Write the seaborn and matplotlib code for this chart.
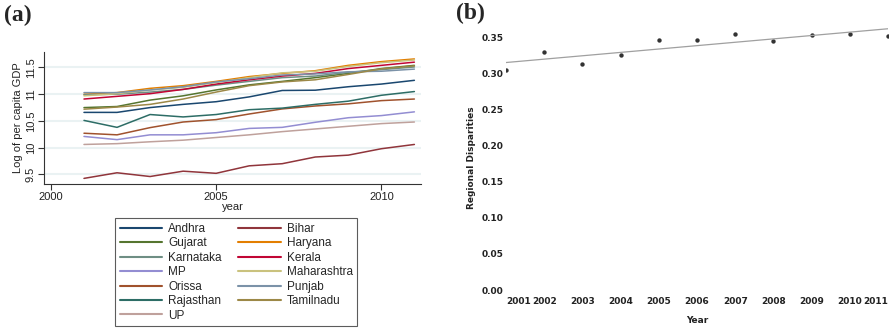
import numpy as np
import pandas as pd
import matplotlib
matplotlib.use("Agg")
import matplotlib.pyplot as plt
import seaborn as sns

# --- DATA ---
years = list(range(2001, 2012))

states = ['Andhra', 'Bihar', 'Gujarat', 'Haryana', 'Karnataka', 'Kerala', 'MP',
          'Maharashtra', 'Orissa', 'Punjab', 'Rajasthan', 'Tamilnadu', 'UP']

andhra = [10.66, 10.66, 10.75, 10.81, 10.86, 10.95, 11.07, 11.075, 11.14, 11.19, 11.26]
bihar = [9.425, 9.53, 9.46, 9.56, 9.52, 9.66, 9.70, 9.825, 9.86, 9.98, 10.06]
gujarat = [10.75, 10.77, 10.89, 10.97, 11.08, 11.175, 11.24, 11.31, 11.39, 11.48, 11.54]
haryana = [11.00, 11.03, 11.11, 11.16, 11.24, 11.33, 11.39, 11.44, 11.54, 11.61, 11.66]
karnataka = [10.99, 11.00, 11.04, 11.09, 11.17, 11.24, 11.31, 11.34, 11.41, 11.46, 11.51]
kerala = [10.91, 10.96, 11.01, 11.09, 11.19, 11.27, 11.34, 11.39, 11.48, 11.54, 11.60]
mp = [10.21, 10.15, 10.24, 10.24, 10.28, 10.36, 10.38, 10.475, 10.56, 10.60, 10.67]
maharashtra = [10.97, 11.01, 11.08, 11.13, 11.22, 11.31, 11.40, 11.43, 11.52, 11.59, 11.64]
orissa = [10.27, 10.24, 10.375, 10.48, 10.525, 10.63, 10.725, 10.78, 10.82, 10.88, 10.91]
punjab = [11.03, 11.03, 11.08, 11.14, 11.23, 11.29, 11.36, 11.38, 11.42, 11.43, 11.47]
rajasthan = [10.51, 10.38, 10.62, 10.575, 10.62, 10.71, 10.74, 10.81, 10.87, 10.98, 11.05]
tamilnadu = [10.72, 10.76, 10.81, 10.91, 11.04, 11.16, 11.23, 11.27, 11.37, 11.475, 11.53]
up = [10.06, 10.075, 10.11, 10.14, 10.19, 10.24, 10.30, 10.35, 10.40, 10.45, 10.48]

disparities = [0.305, 0.330, 0.3136, 0.3257, 0.3472, 0.3467, 0.3551, 0.3458, 0.3542, 0.3561, 0.3533]

state_colors = ['#1a476f', '#90353b', '#55752f', '#e37e00', '#6e8e84', '#c10534', '#938dd2',
                '#cac27e', '#a0522d', '#7b92a8', '#2d6d66', '#9c8847', '#bfa19c']

series = [andhra, bihar, gujarat, haryana, karnataka, kerala, mp,
          maharashtra, orissa, punjab, rajasthan, tamilnadu, up]

df = pd.DataFrame([(s, y, v) for s, vals in zip(states, series) for y, v in zip(years, vals)],
                  columns=['state', 'year', 'lgdp'])

# --- STYLE ---
sns.set_style("white")
plt.rcParams['font.family'] = ['Liberation Sans', 'DejaVu Sans']

fig = plt.figure(figsize=(8.94, 3.28), dpi=100)

# --- PANEL (a) ---
ax1 = fig.add_axes([44 / 894, 1 - 184 / 328, 377 / 894, 132 / 328])
sns.lineplot(data=df, x='year', y='lgdp', hue='state', hue_order=states,
             palette=dict(zip(states, state_colors)), linewidth=1.1, ax=ax1)

ax1.set_xlim(1999.79, 2011.2)
ax1.set_ylim(9.32, 11.79)
ax1.set_yticks([9.5, 10, 10.5, 11, 11.5])
ax1.set_yticklabels(['9.5', '10', '10.5', '11', '11.5'], rotation=90, va='center')
ax1.set_xticks([2000, 2005, 2010])
ax1.grid(axis='y', color='#eaf2f3', linewidth=1.5)
ax1.set_axisbelow(True)
for side in ['top', 'right']:
    ax1.spines[side].set_visible(False)
for side in ['left', 'bottom']:
    ax1.spines[side].set_color('#333333')
    ax1.spines[side].set_linewidth(0.8)
ax1.tick_params(axis='both', labelsize=8, length=4, width=0.8, color='#333333', pad=2,
                direction='out', left=True, bottom=True, labelcolor='#222222')
ax1.set_xlabel('year', fontsize=8, labelpad=0, color='#222222')
ax1.set_ylabel('Log of per capita GDP', fontsize=8, labelpad=2, color='#222222')

handles, labels = ax1.get_legend_handles_labels()
ax1.get_legend().remove()
order = list(range(0, 13, 2)) + list(range(1, 13, 2))
leg = fig.legend([handles[i] for i in order], [labels[i] for i in order],
                 ncol=2, loc='upper left', bbox_to_anchor=(115 / 894, 1 - 218 / 328),
                 borderaxespad=0, fontsize=8.5, frameon=True, fancybox=False,
                 edgecolor='#333333', handlelength=3.6, handletextpad=0.5,
                 columnspacing=1.4, labelspacing=0.21, borderpad=0.4)
leg.get_frame().set_linewidth(0.8)
for line in leg.get_lines():
    line.set_linewidth(1.5)

# --- PANEL (b) ---
ax2 = fig.add_axes([506 / 894, 1 - 290 / 328, 382 / 894, 265 / 328])
sns.regplot(x=years, y=disparities, ci=None, ax=ax2,
            scatter_kws=dict(s=10, color='black', linewidths=0),
            line_kws=dict(color='#a0a0a0', linewidth=0.9))
ax2.set_xlim(2001, 2011)
ax2.set_ylim(0, 0.368)
ax2.set_yticks(np.arange(0, 0.351, 0.05))
ax2.set_yticklabels([f'{v:.2f}' for v in np.arange(0, 0.351, 0.05)])
ax2.set_xticks(years)
xt = ax2.set_xticklabels([str(y) for y in years])
xt[0].set_ha('left')
xt[-1].set_ha('right')
for s in ax2.spines.values():
    s.set_visible(False)
ax2.tick_params(axis='both', length=0, labelsize=6.5, labelcolor='#222222')
ax2.tick_params(axis='x', pad=5)
ax2.tick_params(axis='y', pad=2)
for t in ax2.get_xticklabels() + ax2.get_yticklabels():
    t.set_fontweight('bold')
    t.set_family('DejaVu Sans')
ax2.set_xlabel('Year', fontsize=6.5, fontweight='bold', family='DejaVu Sans', labelpad=7, color='#222222')
ax2.set_ylabel('Regional Disparities', fontsize=6.5, fontweight='bold', family='DejaVu Sans',
               labelpad=4, color='#222222')

# --- PANEL LETTERS ---
fig.text(4 / 894, 1 - 5 / 328, '(a)', fontsize=17, fontweight='bold', family='Liberation Serif',
         va='top', ha='left')
fig.text(456 / 894, 1 - 3 / 328, '(b)', fontsize=17, fontweight='bold', family='Liberation Serif',
         va='top', ha='left')

fig.savefig('out.png', dpi=100)
